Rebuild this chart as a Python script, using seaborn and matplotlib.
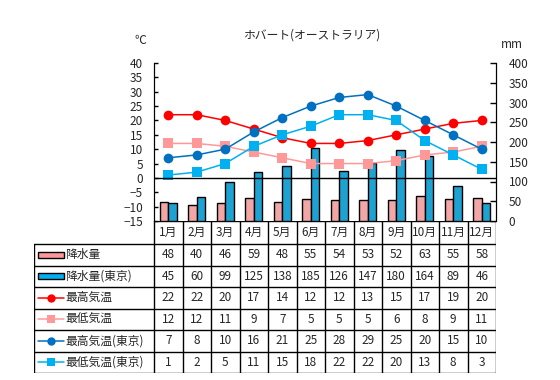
import matplotlib
matplotlib.use("Agg")
import matplotlib.pyplot as plt
import seaborn as sns
import pandas as pd
import numpy as np
from matplotlib.patches import Rectangle
from matplotlib.lines import Line2D

months = ["1月", "2月", "3月", "4月", "5月", "6月", "7月", "8月", "9月", "10月", "11月", "12月"]
rain_hobart = [48, 40, 46, 59, 48, 55, 54, 53, 52, 63, 55, 58]
rain_tokyo = [45, 60, 99, 125, 138, 185, 126, 147, 180, 164, 89, 46]
tmax_hobart = [22, 22, 20, 17, 14, 12, 12, 13, 15, 17, 19, 20]
tmin_hobart = [12, 12, 11, 9, 7, 5, 5, 5, 6, 8, 9, 11]
tmax_tokyo = [7, 8, 10, 16, 21, 25, 28, 29, 25, 20, 15, 10]
tmin_tokyo = [1, 2, 5, 11, 15, 18, 22, 22, 20, 13, 8, 3]

bar_names = ["降水量", "降水量(東京)"]
line_names = ["最高気温", "最低気温", "最高気温(東京)", "最低気温(東京)"]
bar_colors = ["#FF9999", "#00B0F0"]
line_colors = ["#FF0000", "#FF9999", "#0070C0", "#00B0F0"]
line_markers = ["o", "s", "o", "s"]

sns.set_style("white")
plt.rcParams["font.family"] = ["Noto Sans CJK JP", "DejaVu Sans"]
plt.rcParams["font.size"] = 8.5

W, H = 560, 380
fig = plt.figure(figsize=(W / 100, H / 100), dpi=100)

x0, x1, y_top, y_bot = 154, 496, 63, 221
ax = fig.add_axes([x0 / W, 1 - y_bot / H, (x1 - x0) / W, (y_bot - y_top) / H])
ax2 = ax.twinx()

# bars on the right axis
bars = pd.DataFrame({
    "month": months * 2,
    "value": rain_hobart + rain_tokyo,
    "series": [bar_names[0]] * 12 + [bar_names[1]] * 12,
})
sns.barplot(data=bars, x="month", y="value", hue="series", palette=bar_colors,
            width=0.58, edgecolor="black", linewidth=1, ax=ax2, legend=False)
ax2.set_ylim(0, 400)
ax2.set_yticks(range(0, 401, 50))
ax2.set_facecolor("#FFFFCC")
ax2.set_xlabel("")
ax2.set_ylabel("")

# lines on the left axis
idx = np.arange(12)
for vals, c, m in zip([tmax_hobart, tmin_hobart, tmax_tokyo, tmin_tokyo], line_colors, line_markers):
    sns.lineplot(x=idx, y=vals, color=c, marker=m, markersize=7, markeredgewidth=0,
                 linewidth=1.1, ax=ax)
ax.set_zorder(ax2.get_zorder() + 1)
ax.patch.set_visible(False)
ax.set_ylim(-15, 40)
ax.set_yticks(range(-15, 41, 5))
ax.axhline(0, color="black", linewidth=1)
ax.set_xlim(-0.5, 11.5)
ax2.set_xlim(-0.5, 11.5)
ax.set_xticks([])
ax2.set_xticks([])

for a in (ax, ax2):
    for s in a.spines.values():
        s.set_color("black")
    a.spines["top"].set_visible(False)
    a.spines["bottom"].set_visible(False)
ax.tick_params(axis="y", left=True, direction="in", length=3, width=1, color="black",
               labelsize=8.5, pad=8)
ax2.tick_params(axis="y", right=True, direction="in", length=4, width=1, color="black",
                labelsize=8.5, pad=9)

fig.text(312 / W, 1 - 35 / H, "ホバート(オーストラリア)", ha="center", va="center", fontsize=8.5)
fig.text(140 / W, 1 - 41 / H, "℃", ha="center", va="center", fontsize=8.5)
fig.text(512 / W, 1 - 44 / H, "mm", ha="center", va="center", fontsize=8.5)

# data table below the chart
tl, tr, tt, tb = 34, x1, y_bot, 373
tab = fig.add_axes([tl / W, 1 - tb / H, (tr - tl) / W, (tb - tt) / H])
tab.set_xlim(tl, tr)
tab.set_ylim(tb, tt)
tab.axis("off")

col_w = (x1 - x0) / 12
head_b = 244
row_h = (tb - head_b) / 6
kw = dict(color="black", linewidth=1)
tab.plot([x0, x1], [tt, tt], **kw)
for i in range(7):
    y = head_b + i * row_h
    tab.plot([tl, x1], [y, y], **kw)
for j in range(13):
    xx = x0 + j * col_w
    tab.plot([xx, xx], [tt, tb], **kw)
tab.plot([tl, tl], [head_b, tb], **kw)

for j, m in enumerate(months):
    tab.text(x0 + (j + 0.5) * col_w, (tt + head_b) / 2, m, ha="center", va="center")

rows = [rain_hobart, rain_tokyo, tmax_hobart, tmin_hobart, tmax_tokyo, tmin_tokyo]
names = bar_names + line_names
for i, (vals, name) in enumerate(zip(rows, names)):
    yc = head_b + (i + 0.5) * row_h
    for j, v in enumerate(vals):
        tab.text(x0 + (j + 0.5) * col_w, yc, str(v), ha="center", va="center")
    tab.text(65, yc, name, ha="left", va="center")
    if i < 2:
        tab.add_patch(Rectangle((38, yc - 3), 26, 6, facecolor=bar_colors[i],
                                edgecolor="black", linewidth=1))
    else:
        k = i - 2
        tab.add_line(Line2D([38, 64], [yc, yc], color=line_colors[k], linewidth=1.1))
        tab.add_line(Line2D([51], [yc], color=line_colors[k], marker=line_markers[k],
                            markersize=6, markeredgewidth=0))

fig.savefig("out.png", dpi=100, facecolor="white")
